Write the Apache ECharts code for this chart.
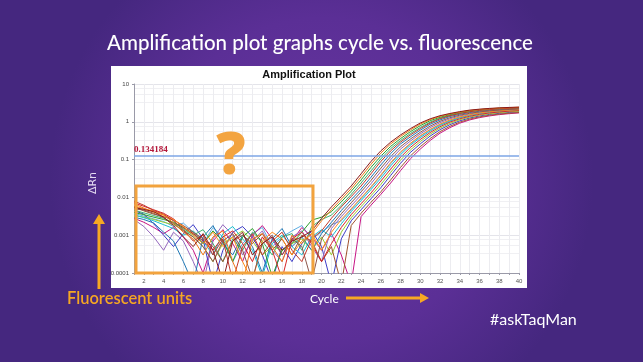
<!DOCTYPE html>
<html>
<head>
<meta charset="utf-8">
<script src="https://cdn.jsdelivr.net/npm/echarts@6/dist/echarts.min.js"></script>
<style>
html,body{margin:0;padding:0;}
#c{width:643px;height:362px;}
</style>
</head>
<body>
<div id="c"></div>
<script>
// ---- data ----
var cycles = [1,2,3,4,5,6,7,8,9,10,11,12,13,14,15,16,17,18,19,20,21,22,23,24,25,26,27,28,29,30,31,32,33,34,35,36,37,38,39,40];
var xTicks = [2,4,6,8,10,12,14,16,18,20,22,24,26,28,30,32,34,36,38,40];
var yTicks = [0.0001,0.001,0.01,0.1,1,10];
var threshold = 0.134184;

var well01 = [0.0055,0.0048,0.0042,0.0030,0.0018,0.0009,0.0005,0.0011,0.0004,0.00006,0.0007,0.0012,0.0003,0.0006,0.0009,0.0004,0.0007,
  0.0009,0.0013,0.0028,0.0056,0.0105,0.020,0.042,0.089,0.17,0.29,0.45,0.66,0.93,1.2,1.45,1.66,1.86,2.04,2.16,2.26,2.34,2.4,2.45];
var well02 = [0.0068,0.0052,0.0040,0.0035,0.0021,0.0012,0.0008,0.0003,0.0009,0.0013,0.0002,0.00005,0.0008,0.0011,0.0005,0.0002,0.0010,
  0.0006,0.0011,0.0024,0.0047,0.0090,0.017,0.035,0.075,0.148,0.26,0.41,0.61,0.87,1.14,1.39,1.61,1.81,1.99,2.12,2.22,2.3,2.37,2.42];
var well03 = [0.0040,0.0035,0.0030,0.0026,0.0022,0.0016,0.0011,0.0006,0.0013,0.0007,0.0002,0.0009,0.0015,0.0006,0.00008,0.0004,0.0006,
  0.0012,0.0025,0.0030,0.0042,0.0076,0.0145,0.029,0.062,0.123,0.224,0.36,0.55,0.79,1.07,1.32,1.55,1.76,1.95,2.09,2.2,2.28,2.34,2.38];
var well04 = [0.0080,0.0062,0.0045,0.0036,0.0024,0.0014,0.0007,0.0010,0.0003,0.0008,0.00006,0.0005,0.0011,0.0003,0.0007,0.0012,0.0004,
  0.0002,0.0008,0.0013,0.0028,0.0056,0.0105,0.020,0.042,0.089,0.17,0.29,0.45,0.66,0.93,1.2,1.45,1.66,1.84,2.0,2.1,2.2,2.27,2.32];
var well05 = [0.0030,0.0026,0.0021,0.0012,0.0007,0.0002,0.00005,0.0009,0.0018,0.0006,0.0003,0.0010,0.0005,0.0001,0.0008,0.0015,0.0005,
  0.0009,0.0004,0.0011,0.0022,0.0045,0.0087,0.0165,0.034,0.072,0.145,0.26,0.40,0.60,0.86,1.12,1.38,1.58,1.76,1.9,2.02,2.1,2.17,2.22];
var well06 = [0.0050,0.0046,0.0038,0.0029,0.0020,0.0013,0.0009,0.0005,0.0002,0.0007,0.0011,0.0004,0.00007,0.0006,0.0010,0.0003,0.0008,
  0.0005,0.00006,0.0008,0.0018,0.0037,0.0072,0.014,0.028,0.059,0.12,0.22,0.35,0.53,0.77,1.03,1.28,1.5,1.68,1.83,1.95,2.05,2.12,2.18];
var well07 = [0.0026,0.0017,0.0009,0.0004,0.0012,0.0007,0.0002,0.00005,0.0008,0.0019,0.0010,0.0003,0.0007,0.0013,0.0004,0.0002,0.0009,
  0.0013,0.0005,0.0002,0.0015,0.0031,0.006,0.0115,0.023,0.048,0.1,0.19,0.31,0.48,0.7,0.95,1.2,1.42,1.61,1.77,1.9,2.0,2.08,2.14];
var well08 = [0.0060,0.0050,0.0044,0.0033,0.0026,0.0017,0.0010,0.0006,0.0012,0.0005,0.0009,0.0002,0.00006,0.0007,0.0012,0.0008,0.0003,
  0.0007,0.0011,0.0004,0.0012,0.0026,0.005,0.0097,0.019,0.039,0.083,0.16,0.27,0.43,0.63,0.87,1.12,1.35,1.55,1.71,1.85,1.96,2.04,2.1];
var well09 = [0.0035,0.0029,0.0024,0.0019,0.0015,0.0010,0.0013,0.0007,0.0003,0.0011,0.0017,0.0008,0.0004,0.00008,0.0006,0.0010,0.0005,
  0.0003,0.0009,0.0014,0.0009,0.0020,0.0042,0.0082,0.016,0.032,0.068,0.135,0.24,0.38,0.57,0.8,1.04,1.27,1.47,1.64,1.78,1.89,1.98,2.04];
var well10 = [0.0072,0.0058,0.0047,0.0038,0.0027,0.0016,0.0011,0.0007,0.0004,0.0009,0.0013,0.0006,0.0002,0.0009,0.0004,0.00007,0.0008,
  0.0012,0.0006,0.0002,0.0006,0.0016,0.0035,0.0068,0.013,0.027,0.056,0.115,0.21,0.34,0.52,0.74,0.98,1.2,1.4,1.57,1.71,1.82,1.91,1.98];
var well11 = [0.0033,0.0030,0.0026,0.0022,0.0019,0.0014,0.0009,0.0005,0.0002,0.0006,0.0009,0.0013,0.0007,0.0003,0.0005,0.0004,0.0006,
  0.0008,0.0004,0.0009,0.0003,0.0012,0.0029,0.0057,0.011,0.022,0.046,0.097,0.18,0.3,0.47,0.68,0.91,1.13,1.33,1.5,1.64,1.75,1.84,1.91];
var well12 = [0.0045,0.0036,0.0020,0.0010,0.0005,0.0011,0.0019,0.0008,0.00005,0.0004,0.0012,0.0017,0.0009,0.0003,0.00006,0.0005,0.0002,
  0.0006,0.0013,0.0005,0.00005,0.0008,0.0024,0.0047,0.0092,0.018,0.038,0.08,0.155,0.26,0.42,0.62,0.84,1.06,1.26,1.43,1.57,1.68,1.77,1.84];
var well13 = [0.0058,0.0044,0.0036,0.0031,0.0025,0.0018,0.0012,0.0008,0.0005,0.0002,0.0007,0.0010,0.0006,0.0011,0.0004,0.0008,0.0003,
  0.0010,0.0007,0.0002,0.0005,0.00005,0.0018,0.0038,0.0074,0.014,0.029,0.062,0.125,0.22,0.36,0.55,0.76,0.98,1.18,1.35,1.49,1.6,1.69,1.76];
var well14 = [0.0028,0.0022,0.0016,0.0011,0.0016,0.0009,0.0004,0.0001,0.0007,0.0014,0.0006,0.0002,0.0010,0.0018,0.0008,0.0003,0.0007,
  0.0016,0.0009,0.0004,0.0011,0.0003,0.00005,0.0031,0.0062,0.012,0.024,0.051,0.105,0.19,0.32,0.5,0.7,0.92,1.12,1.29,1.43,1.55,1.64,1.72];
var well15 = [0.0046,0.0039,0.0033,0.0028,0.0021,0.0015,0.0010,0.0014,0.0006,0.0002,0.0008,0.0004,0.0012,0.0007,0.0003,0.0009,0.0011,
  0.0004,0.0017,0.0026,0.0034,0.0062,0.012,0.024,0.05,0.104,0.195,0.32,0.49,0.71,0.98,1.25,1.48,1.68,1.86,1.99,2.1,2.18,2.25,2.3];
var well16 = [0.0038,0.0032,0.0027,0.0023,0.0017,0.0021,0.0012,0.0006,0.0016,0.0009,0.0002,0.0006,0.0011,0.0016,0.0005,0.0009,0.0013,
  0.0018,0.0008,0.0012,0.0019,0.0024,0.0047,0.0092,0.018,0.037,0.078,0.152,0.26,0.41,0.61,0.84,1.08,1.31,1.51,1.68,1.81,1.92,2.0,2.06];

var wells = [well16, well14, well12, well11, well09, well07, well05, well15, well03, well13, well10, well08, well06, well04, well02, well01];
var wellColors = ['#5dade2','#c71585','#3d3dc8','#9acd32','#17becf','#9467bd','#1f77b4','#3cb371','#2ca02c','#a0522d','#d62728','#ff8c1a','#8c564b','#c0392b','#f07818','#8b1a1a'];

// ---- chart ----
var chart = echarts.init(document.getElementById('c'));
var series = wells.map(function(w, i){
  return {
    type: 'line',
    data: cycles.map(function(c, k){ return [c, w[k]]; }),
    showSymbol: false,
    symbol: 'none',
    clip: true,
    silent: true,
    lineStyle: { width: 1, color: wellColors[i] },
    z: 3
  };
});
series.push({
  type: 'line',
  data: [],
  silent: true,
  markLine: {
    symbol: 'none',
    silent: true,
    lineStyle: { color: '#7ea6e6', width: 1.5, type: 'solid' },
    label: {
      position: 'insideStartTop',
      formatter: String(threshold),
      color: '#b3173a',
      fontFamily: 'Liberation Serif',
      fontWeight: 'bold',
      fontSize: 9,
      distance: [0, 1]
    },
    data: [{ yAxis: threshold }]
  },
  z: 4
});

var xSet = {}; xTicks.forEach(function(t){ xSet[t] = true; });

var option = {
  animation: false,
  backgroundColor: {
    type: 'radial', x: 0.5, y: 0.5, r: 0.75,
    colorStops: [
      { offset: 0, color: '#6a36a2' },
      { offset: 0.6, color: '#5b2f96' },
      { offset: 1, color: '#45277f' }
    ]
  },
  grid: { left: 134, top: 84, right: 124, bottom: 89, containLabel: false },
  xAxis: {
    type: 'value', min: 1, max: 40, interval: 1,
    axisLine: { lineStyle: { color: '#9a9aa8', width: 1 } },
    axisTick: { show: true, length: 2, lineStyle: { color: '#9a9aa8' } },
    axisLabel: { fontSize: 6, color: '#555', fontFamily: 'Liberation Sans', margin: 5,
      formatter: function(v){ return xSet[v] ? String(v) : ''; } },
    splitLine: { show: true, lineStyle: { color: '#ececf0', width: 1 } }
  },
  yAxis: {
    type: 'log', logBase: 10, min: yTicks[0], max: yTicks[yTicks.length-1],
    axisLine: { show: true, lineStyle: { color: '#9a9aa8', width: 1 } },
    axisTick: { show: true, length: 2, lineStyle: { color: '#9a9aa8' } },
    axisLabel: { fontSize: 6, color: '#444', fontFamily: 'Liberation Sans', margin: 5,
      formatter: function(v){ return String(+v.toPrecision(1)); } },
    splitLine: { show: true, lineStyle: { color: '#e4e4ea', width: 1 } },
    minorTick: { show: false, splitNumber: 4 },
    minorSplitLine: { show: true, lineStyle: { color: '#f0f0f3', width: 1 } }
  },
  graphic: [
    { type: 'rect', shape: { x: 111, y: 66, width: 416, height: 222 }, style: { fill: '#ffffff' }, z: -10, silent: true },
    { type: 'text', x: 320, y: 43, style: { text: 'Amplification plot graphs cycle vs. fluorescence', fill: '#ffffff',
        font: '500 20.5px Lato', textAlign: 'center', textVerticalAlign: 'middle' }, z: 10 },
    { type: 'text', x: 309, y: 75, style: { text: 'Amplification Plot', fill: '#111',
        font: 'bold 11px "Liberation Sans"', textAlign: 'center', textVerticalAlign: 'middle' }, z: 10 },
    { type: 'rect', shape: { x: 136, y: 186, width: 177, height: 87 }, style: { fill: 'none', stroke: '#f2a33e', lineWidth: 3 }, z: 20 },
    { type: 'text', x: 231, y: 157, style: { text: '?', fill: '#f3a440',
        font: '800 58px "Open Sans"', textAlign: 'center', textVerticalAlign: 'middle' }, z: 20 },
    { type: 'text', x: 93, y: 183, rotation: Math.PI/2, style: { text: 'ΔRn', fill: '#e6dcf2',
        font: '11px "DejaVu Sans"', textAlign: 'center', textVerticalAlign: 'middle' }, z: 20 },
    { type: 'line', shape: { x1: 99, y1: 289, x2: 99, y2: 222 }, style: { stroke: '#f7a823', lineWidth: 3 }, z: 20 },
    { type: 'polygon', shape: { points: [[93, 224], [105, 224], [99, 214]] }, style: { fill: '#f7a823' }, z: 20 },
    { type: 'text', x: 67, y: 299, style: { text: 'Fluorescent units', fill: '#f5a623',
        font: '600 16.5px Lato', textAlign: 'left', textVerticalAlign: 'middle' }, z: 20 },
    { type: 'text', x: 310, y: 299, style: { text: 'Cycle', fill: '#ffffff',
        font: '12px Lato', textAlign: 'left', textVerticalAlign: 'middle' }, z: 20 },
    { type: 'line', shape: { x1: 346, y1: 298, x2: 422, y2: 298 }, style: { stroke: '#f7a823', lineWidth: 3 }, z: 20 },
    { type: 'polygon', shape: { points: [[420, 293], [420, 303], [429, 298]] }, style: { fill: '#f7a823' }, z: 20 },
    { type: 'text', x: 490, y: 320, style: { text: '#askTaqMan', fill: '#ffffff',
        font: '16px Lato', textAlign: 'left', textVerticalAlign: 'middle' }, z: 20 }
  ],
  series: series
};
chart.setOption(option);
</script>
</body>
</html>
